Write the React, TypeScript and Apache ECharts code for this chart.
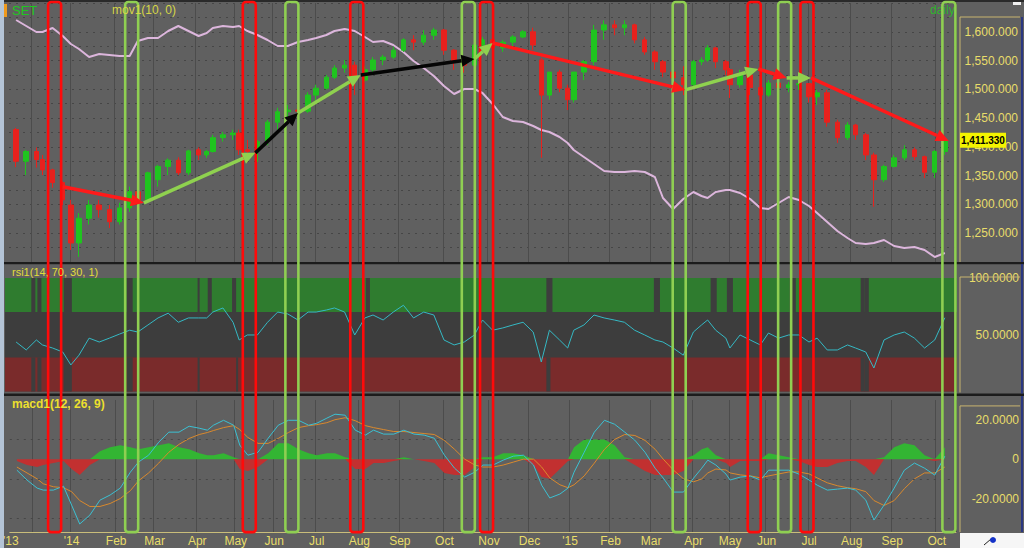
import React, { useEffect, useRef } from 'react';
import * as echarts from 'echarts';

// ---------- calendar ----------
const START_DATE = '2013-11-15';
const END_DATE = '2015-10-14';
const FIRST_WEEK_MONDAY = '2013-11-18';
const HOLIDAYS = [
  '2013-12-05', '2013-12-10', '2013-12-31', '2014-01-01', '2014-02-14', '2014-04-07', '2014-04-14',
  '2014-04-15', '2014-05-01', '2014-05-05', '2014-05-13', '2014-07-01', '2014-07-11', '2014-08-12',
  '2014-10-23', '2014-12-05', '2014-12-10', '2014-12-31', '2015-01-01', '2015-01-02', '2015-03-04',
  '2015-04-06', '2015-04-13', '2015-04-14', '2015-04-15', '2015-05-01', '2015-05-04', '2015-05-05',
  '2015-06-01', '2015-07-01', '2015-07-30', '2015-08-12',
];
const MONTH_NAMES = ['Jan', 'Feb', 'Mar', 'Apr', 'May', 'Jun', 'Jul', 'Aug', 'Sep', 'Oct', 'Nov', 'Dec'];

// ---------- weekly SET values (one per week, from week of 2013-11-18) ----------
const OPEN = [1430, 1375, 1392, 1378, 1360, 1338, 1299, 1233, 1276, 1299, 1291, 1270, 1294, 1322, 1308, 1343, 1366, 1377, 1355, 1395,
  1386, 1392, 1416, 1421, 1424, 1395, 1392, 1409, 1443, 1461, 1464, 1462, 1490, 1502, 1521, 1537, 1542, 1516, 1534, 1551,
  1556, 1568, 1586, 1582, 1594, 1603, 1568, 1548, 1542, 1577, 1586, 1572, 1582, 1591, 1600, 1551, 1490, 1530, 1502, 1482,
  1530, 1548, 1603, 1612, 1607, 1612, 1586, 1565, 1548, 1530, 1520, 1508, 1548, 1551, 1572, 1548, 1534, 1508, 1525, 1503,
  1490, 1511, 1503, 1508, 1510, 1487, 1494, 1443, 1416, 1438, 1421, 1386, 1343, 1366, 1381, 1395, 1383, 1356, 1392];
const HIGH = [1433, 1395, 1399, 1386, 1362, 1340, 1308, 1285, 1308, 1308, 1299, 1303, 1331, 1334, 1357, 1369, 1380, 1382, 1395, 1399,
  1395, 1421, 1426, 1430, 1430, 1412, 1412, 1447, 1468, 1473, 1473, 1495, 1508, 1525, 1542, 1551, 1548, 1540, 1556, 1560,
  1574, 1589, 1594, 1603, 1607, 1605, 1570, 1555, 1580, 1591, 1589, 1586, 1594, 1603, 1607, 1555, 1530, 1534, 1508, 1530,
  1551, 1612, 1620, 1620, 1620, 1614, 1591, 1568, 1551, 1546, 1540, 1551, 1556, 1577, 1574, 1551, 1537, 1534, 1530, 1508,
  1516, 1516, 1513, 1516, 1511, 1499, 1499, 1447, 1443, 1440, 1424, 1390, 1369, 1386, 1403, 1399, 1385, 1395, 1412];
const LOW = [1365, 1351, 1364, 1351, 1329, 1299, 1221, 1209, 1265, 1277, 1259, 1265, 1287, 1303, 1303, 1331, 1351, 1351, 1351, 1377,
  1381, 1390, 1409, 1412, 1386, 1377, 1374, 1403, 1430, 1450, 1456, 1459, 1477, 1500, 1518, 1529, 1490, 1513, 1530, 1542,
  1553, 1565, 1568, 1577, 1586, 1560, 1534, 1529, 1530, 1572, 1565, 1565, 1574, 1589, 1568, 1381, 1482, 1495, 1464, 1477,
  1516, 1542, 1586, 1594, 1594, 1580, 1560, 1534, 1521, 1511, 1490, 1503, 1542, 1548, 1537, 1525, 1485, 1503, 1490, 1478,
  1487, 1495, 1495, 1499, 1477, 1473, 1435, 1407, 1412, 1412, 1377, 1296, 1339, 1364, 1377, 1377, 1346, 1346, 1386];
const CLOSE = [1375, 1392, 1378, 1360, 1338, 1308, 1233, 1276, 1299, 1291, 1270, 1294, 1322, 1308, 1355, 1366, 1377, 1355, 1393, 1386,
  1392, 1416, 1421, 1424, 1395, 1392, 1409, 1443, 1461, 1464, 1462, 1490, 1502, 1521, 1537, 1542, 1516, 1534, 1551, 1556,
  1568, 1586, 1582, 1594, 1603, 1568, 1548, 1542, 1577, 1586, 1572, 1582, 1591, 1600, 1577, 1490, 1530, 1502, 1482, 1530,
  1548, 1603, 1612, 1607, 1612, 1586, 1565, 1548, 1530, 1520, 1508, 1548, 1551, 1572, 1548, 1534, 1508, 1525, 1503, 1490,
  1511, 1503, 1508, 1510, 1487, 1494, 1443, 1416, 1438, 1421, 1386, 1343, 1366, 1381, 1395, 1383, 1356, 1392, 1411.33];
const MOV1 = [242, 236, 230, 230, 234, 226, 218, 213, 205, 208, 207, 206, 206, 221, 224, 224, 231, 236, 231, 226,
  229, 234, 236, 235, 236, 231, 227, 222, 216, 216, 220, 222, 224, 227, 231, 233, 231, 225, 220, 221,
  217, 210, 201, 194, 186, 176, 168, 173, 173, 169, 158, 145, 141, 140, 136, 132, 130, 125, 119, 112,
  105, 98, 91, 90, 90, 91, 90, 85, 64, 53, 63, 70, 66, 64, 70, 72, 72, 69, 63, 54,
  53, 59, 65, 62, 56, 49, 40, 31, 24, 19, 18, 19, 22, 16, 14, 15, 12, 5, 9];
const RSI = [43.6, 36.6, 45.4, 41, 38.3, 34.8, 23.4, 32, 47, 43.6, 47, 50.6, 54, 52.4, 58.6, 64.8, 69, 61, 64.8, 64.8,
  64.8, 70, 73.6, 61, 45.4, 49.8, 49.8, 61, 70, 68.3, 63, 70, 70, 71.8, 73.6, 70, 49.8, 64.8, 67.4, 63,
  70, 76, 64.8, 70, 67.4, 45.4, 41, 43.6, 49.8, 63, 54, 56, 58.6, 61, 52.4, 26, 54, 45.4, 38.3, 54,
  58.6, 67.4, 64.8, 63, 61, 54, 49.8, 45.4, 43.6, 38.3, 32, 52.4, 58.6, 63, 54, 47, 38.3, 49.8, 45.4, 41,
  51.5, 47, 49.8, 49.8, 43.6, 47, 36.6, 36.6, 41, 38.3, 34.8, 20.7, 45.4, 49.8, 52.4, 47, 38.3, 45.4, 65];
const MACD = [-5.6, -10.6, -14.7, -15.7, -15.7, -13.7, -23.3, -32.9, -28.4, -20.8, -18.2, -14.7, -6.6, -1.5, 2, 8.6, 13.7, 13.7, 16.7, 15.7,
  14.7, 17.2, 19.7, 17.2, 7.1, 2, 3.5, 10.6, 17.2, 19.7, 19.7, 17.2, 18.2, 20.8, 22.8, 22.3, 14.7, 12.2, 14.7, 12.7,
  12.7, 14.7, 12.7, 12.2, 10.6, 2, -4.6, -9.1, -6.6, -3, -3, -0.5, 1.5, 2, -3, -13.2, -19.7, -17.7, -14.7, -6.6,
  3.5, 13.7, 19.7, 17.7, 13.7, 9.6, 3.5, -4.6, -9.6, -16.7, -16.7, -9.6, -4.6, -0.5, -3, -7.6, -10.6, -9.1, -8.6, -10.6,
  -5.6, -5.6, -5.6, -7.6, -10.6, -13.2, -15.7, -15.2, -14.7, -15.7, -20.8, -30.9, -23.3, -14.7, -5.6, -2, -4.6, -8.1, 1.5];
const SIGNAL = [-4, -7, -10, -12.5, -14, -14.5, -16.5, -21, -24, -24, -22.5, -20, -16, -11, -7, -2, 3.5, 7.5, 10.5, 12.5,
  13.5, 14.5, 16, 17, 15, 11, 8, 8, 10.5, 13.5, 16, 17, 17.5, 18.5, 20, 21, 19.5, 17, 16, 15,
  14, 14, 13.5, 13, 12.5, 9.5, 5, 0, -3, -4, -4, -3, -1.5, 0, 0, -4, -9.5, -13, -14.5, -13,
  -8.5, -2, 5, 10, 12.5, 12, 9.5, 5, 0, -5.5, -10, -11.5, -10, -7, -5, -5.5, -7, -8, -8.5, -9.5,
  -8.5, -7.5, -6.5, -6.5, -7.5, -9.5, -12, -13.5, -14.5, -15, -16.5, -21, -23.5, -21, -15, -10, -7, -7, -4];
const HIST = [-1, -3, -4, -3, -2, -1, -5, -8, -3, 4, 6, 7, 6, 5, 6, 7, 8, 6, 5, 3,
  2, 2, 3, 1, -5, -6, -4, 3, 8, 8, 5, 3, 2, 3, 3, 1, -5, -5, -2, -2,
  -1, 1, 0, -1, -2, -7, -8, -8, -4, 1, 1, 3, 3, 2, -3, -9, -10, -5, -1, 6,
  10, 10, 10, 7, 1, -3, -6, -8, -8, -8, -6, 2, 5, 6, 2, -2, -4, -1, -1, -1,
  3, 2, 1, -1, -3, -4, -4, -2, -1, -1, -4, -8, 1, 6, 8, 7, 2, -1, 6];
const LAST_PRICE = 1411.33;

// ---------- annotations ----------
const RED_BOXES = ['2013-12-19', '2014-05-15', '2014-07-31', '2014-10-31', '2015-05-22', '2015-06-30'];
const GREEN_BOXES = ['2014-02-13', '2014-06-13', '2014-10-17', '2015-03-23', '2015-06-15', '2015-10-09'];
const TREND_POINTS: [string, number][] = [
  ['2013-12-25', 1330.6], ['2014-02-24', 1302.8], ['2014-05-20', 1389.6], ['2014-06-18', 1459],
  ['2014-08-04', 1525], ['2014-10-22', 1552.8], ['2014-11-05', 1580.6], ['2015-03-26', 1499],
  ['2015-05-26', 1535.4], ['2015-06-16', 1519.8], ['2015-07-03', 1519.8], ['2015-10-09', 1410.4],
];
const TREND_COLORS = ['red', 'green', 'black', 'green', 'black', 'green', 'red', 'green', 'red', 'green', 'red'];
const RSI_GAPS_UPPER: [string, string][] = [
  ['2013-12-02', '2013-12-03'], ['2013-12-06', '2013-12-09'], ['2013-12-26', '2014-01-02'], ['2014-02-11', '2014-02-13'],
  ['2014-04-02', '2014-04-02'], ['2014-04-10', '2014-04-11'], ['2014-04-30', '2014-05-02'], ['2014-08-07', '2014-08-08'],
  ['2014-12-16', '2014-12-18'], ['2015-03-05', '2015-03-09'], ['2015-04-20', '2015-04-22'], ['2015-04-30', '2015-05-07'],
  ['2015-06-18', '2015-06-22'], ['2015-08-10', '2015-08-11'], ['2015-08-13', '2015-08-14'],
];
const RSI_GAPS_LOWER: [string, string][] = [
  ['2013-12-02', '2013-12-03'], ['2013-12-06', '2013-12-09'], ['2013-12-26', '2014-01-02'], ['2014-02-11', '2014-02-13'],
  ['2014-04-02', '2014-04-02'], ['2014-05-06', '2014-05-06'], ['2014-12-16', '2014-12-17'],
  ['2015-08-10', '2015-08-11'], ['2015-08-13', '2015-08-14'],
];

// ---------- colours ----------
const BG = '#606060';
const AXIS_TEXT = '#e8dd6a';
const FONT = 'Liberation Sans';
const COLORS: Record<string, string> = { red: '#ff1a1a', green: '#8fd14f', black: '#050505' };

const DAY = 86400000;
const parse = (d: string) => Date.parse(d + 'T00:00:00Z');
const iso = (t: number) => new Date(t).toISOString().slice(0, 10);

function buildDays(): string[] {
  const hol = new Set(HOLIDAYS);
  const out: string[] = [];
  for (let t = parse(START_DATE); t <= parse(END_DATE); t += DAY) {
    const wd = new Date(t).getUTCDay();
    if (wd === 0 || wd === 6) continue;
    const s = iso(t);
    if (!hol.has(s)) out.push(s);
  }
  return out;
}

export default function App() {
  const ref = useRef<HTMLDivElement>(null);
  useEffect(() => {
    if (!ref.current) return;
    const chart = echarts.init(ref.current, undefined, { renderer: 'svg' });
    const days = buildDays();
    const idxOf = new Map<string, number>();
    days.forEach((d, i) => idxOf.set(d, i));
    const idxFor = (d: string) => {
      const t = parse(d);
      for (let k = 0; k < 10; k++) {
        const s = iso(t + k * DAY);
        if (idxOf.has(s)) return idxOf.get(s)!;
      }
      return 0;
    };
    const weekIdx = (k: number) => {
      const mon = parse(FIRST_WEEK_MONDAY) + k * 7 * DAY;
      for (const off of [2, 3, 1, 4, 0]) {
        const s = iso(mon + off * DAY);
        if (idxOf.has(s)) return idxOf.get(s)!;
      }
      return -1;
    };
    const n = days.length;
    const empty = () => new Array(n).fill('-') as any[];
    const candle = empty(), mov = empty(), rsi = empty(), macd = empty(), sig = empty(), hPos = empty(), hNeg = empty();
    for (let k = 0; k < OPEN.length; k++) {
      const i = weekIdx(k);
      if (i < 0) continue;
      candle[i] = [OPEN[k], CLOSE[k], LOW[k], HIGH[k]];
      mov[i] = MOV1[k];
      rsi[i] = RSI[k];
      macd[i] = MACD[k];
      sig[i] = SIGNAL[k];
      hPos[i] = HIST[k] > 0 ? HIST[k] : 0;
      hNeg[i] = HIST[k] < 0 ? HIST[k] : 0;
    }
    const monthStart = days.map((d, i) => i > 0 && d.slice(5, 7) !== days[i - 1].slice(5, 7));
    const showLabel = (i: number) => i === 0 || (monthStart[i] && i > 15);
    const labelFmt = (v: string, i: number) => {
      const m = parseInt(v.slice(5, 7), 10);
      if (i === 0 || m === 1) return "'" + v.slice(2, 4);
      return MONTH_NAMES[m - 1];
    };
    const gridL = 9, gridR = 68;
    const xBase = (g: number) => ({
      type: 'category', gridIndex: g, data: days, boundaryGap: true,
      axisTick: { show: false }, axisLabel: { show: false }, axisLine: { show: false },
      splitLine: { show: true, interval: (i: number) => monthStart[i], lineStyle: { color: '#4c4c4c', width: 1 } },
    });
    const priceFmt = (v: number) => v.toLocaleString('en-US', { minimumFractionDigits: 3, maximumFractionDigits: 3 });
    const lbl = { color: AXIS_TEXT, fontSize: 12, fontFamily: FONT, align: 'right' };
    const option: any = {
      animation: false,
      backgroundColor: BG,
      textStyle: { fontFamily: FONT },
      grid: [
        { left: gridL, right: gridR, top: 3, height: 259 },
        { left: gridL, right: gridR, top: 278, height: 113.5 },
        { left: gridL, right: gridR, top: 400, height: 138 },
      ],
      xAxis: [
        xBase(0), xBase(1), xBase(2),
        {
          type: 'category', gridIndex: 2, data: days, boundaryGap: true, position: 'bottom', offset: -6, z: 5,
          axisTick: { show: false }, splitLine: { show: false },
          axisLine: { show: true, lineStyle: { color: '#c9bd7a', width: 1 } },
          axisLabel: { show: true, interval: showLabel, formatter: labelFmt, color: AXIS_TEXT, fontSize: 12, fontFamily: FONT, margin: 3 },
        },
      ],
      yAxis: [
        {
          gridIndex: 0, position: 'right', min: 1200, max: 1650, interval: 25,
          axisLine: { show: false }, axisTick: { show: false },
          splitLine: { show: true, lineStyle: { color: '#464646', type: [2, 5], width: 1 } },
          axisLabel: { ...lbl, margin: 62, formatter: (v: number) => (v % 50 === 0 && v >= 1250 && v <= 1600 ? priceFmt(v) : '') },
        },
        { gridIndex: 0, min: 0, max: 259, show: false },
        {
          gridIndex: 1, position: 'right', min: 0, max: 100, interval: 50,
          axisLine: { show: false }, axisTick: { show: false }, splitLine: { show: false },
          axisLabel: { ...lbl, margin: 63, formatter: (v: number) => (v === 0 ? '' : v.toFixed(4)) },
        },
        {
          gridIndex: 2, position: 'right', min: -40, max: 30, interval: 20,
          axisLine: { show: false }, axisTick: { show: false }, splitLine: { show: false },
          axisLabel: { ...lbl, margin: 63, formatter: (v: number) => (v === 0 ? '0' : v === 20 || v === -20 ? v.toFixed(4) : '') },
        },
      ],
      series: [
        {
          type: 'line', name: 'mov1(10, 0)', xAxisIndex: 0, yAxisIndex: 1, data: mov, connectNulls: true,
          symbol: 'none', lineStyle: { color: '#dcb6dc', width: 2 }, z: 2,
        },
        {
          type: 'candlestick', name: 'SET', xAxisIndex: 0, yAxisIndex: 0, data: candle, barWidth: 5,
          itemStyle: { color: '#1fc41f', color0: '#e8211d', borderColor: '#1fc41f', borderColor0: '#e8211d', borderWidth: 1 }, z: 3,
        },
        {
          type: 'line', name: 'rsi1', xAxisIndex: 1, yAxisIndex: 2, data: rsi, connectNulls: true,
          symbol: 'none', lineStyle: { color: '#35b9c4', width: 1 }, z: 5,
        },
        {
          type: 'line', name: 'hist+', xAxisIndex: 2, yAxisIndex: 3, data: hPos, connectNulls: true,
          symbol: 'none', lineStyle: { width: 0, color: '#33b533' }, areaStyle: { color: '#33b533', opacity: 1 }, z: 2,
          markLine: {
            silent: true, symbol: 'none', label: { show: false },
            lineStyle: { color: '#474747', type: [2, 5], width: 1 },
            data: [{ yAxis: 10 }, { yAxis: -10 }, { yAxis: -30 }],
          },
        },
        {
          type: 'line', name: 'hist-', xAxisIndex: 2, yAxisIndex: 3, data: hNeg, connectNulls: true,
          symbol: 'none', lineStyle: { width: 0, color: '#c23030' }, areaStyle: { color: '#c23030', opacity: 1 }, z: 2,
        },
        {
          type: 'line', name: 'signal', xAxisIndex: 2, yAxisIndex: 3, data: sig, connectNulls: true,
          symbol: 'none', lineStyle: { color: '#d9892d', width: 1 }, z: 4,
        },
        {
          type: 'line', name: 'macd', xAxisIndex: 2, yAxisIndex: 3, data: macd, connectNulls: true,
          symbol: 'none', lineStyle: { color: '#3cc0d2', width: 1 }, z: 5,
        },
      ],
    };
    chart.setOption(option);

    const px = (i: number) => chart.convertToPixel({ xAxisIndex: 0 }, i) as unknown as number;
    const cw = px(1) - px(0);
    const pyP = (v: number) => chart.convertToPixel({ yAxisIndex: 0 }, v) as unknown as number;
    const pyR = (v: number) => chart.convertToPixel({ yAxisIndex: 2 }, v) as unknown as number;
    const pyM = (v: number) => chart.convertToPixel({ yAxisIndex: 3 }, v) as unknown as number;
    const plotRight = px(n - 1) + cw / 2;
    const axisX = plotRight + 4;
    const els: any[] = [];
    const rect = (x: number, y: number, w: number, h: number, fill: string, z: number) =>
      els.push({ type: 'rect', silent: true, z, shape: { x, y, width: w, height: h }, style: { fill } });
    const line = (x1: number, y1: number, x2: number, y2: number, stroke: string, w: number, z: number) =>
      els.push({ type: 'line', silent: true, z, shape: { x1, y1, x2, y2 }, style: { stroke, lineWidth: w } });
    const text = (x: number, y: number, t: string, fill: string, font: string, z = 60, align = 'left') =>
      els.push({ type: 'text', silent: true, z, style: { x, y, text: t, fill, font, textAlign: align, textVerticalAlign: 'middle' } });

    // RSI background and zones
    const rTop = pyR(100), r70 = pyR(70), r30 = pyR(30), rBot = pyR(0);
    rect(5, rTop, plotRight + 1 - 5, rBot - rTop, '#3d3d3d', 1);
    rect(5, rTop, plotRight + 1 - 5, r70 - rTop, '#2f7c2f', 1);
    rect(5, r30, plotRight + 1 - 5, rBot - r30, '#7a2b2b', 1);
    RSI_GAPS_UPPER.forEach(([a, b]) => {
      const x1 = px(idxFor(a)) - cw / 2, x2 = px(idxFor(b)) + cw / 2;
      rect(x1, rTop, x2 - x1, r70 - rTop, '#3d3d3d', 1);
    });
    RSI_GAPS_LOWER.forEach(([a, b]) => {
      const x1 = px(idxFor(a)) - cw / 2, x2 = px(idxFor(b)) + cw / 2;
      rect(x1, r30, x2 - x1, rBot - r30, '#3d3d3d', 1);
    });

    // bottom label strip (hides grid lines below the axis line)
    const bottomY = pyM(-37);
    rect(0, bottomY + 0.5, plotRight + 2, 548 - bottomY, BG, 3);

    // panel separators and frame
    rect(0, 0, 1024, 2, '#2a2a2a', 20);
    rect(0, pyP(1200), 1024, 2.2, '#1c1c1c', 20);
    rect(0, 393.5, 1024, 2.5, '#1c1c1c', 20);
    rect(0, 0, 4, 548, '#b4c4d6', 20);
    rect(4, 4, 3, 13, '#f09a1c', 60);
    // right axis boxes
    line(axisX, 17, axisX, pyP(1200), '#c8b46e', 1, 20);
    line(axisX, 17, 1020, 17, '#c8b46e', 1, 20);
    line(axisX, rTop - 1, axisX, rBot + 1, '#c8b46e', 1, 20);
    line(axisX, rTop - 1, 1020, rTop - 1, '#c8b46e', 1, 20);
    line(axisX, pyM(27), axisX, bottomY, '#c8b46e', 1, 20);
    line(axisX, pyM(27), 1020, pyM(27), '#c8b46e', 1, 20);
    line(1022, 17, 1022, pyP(1200), '#1b2b8c', 1.5, 20);
    line(1022, 264, 1022, 393.5, '#1b2b8c', 1.5, 20);
    line(1022, 396, 1022, bottomY, '#1b2b8c', 1.5, 20);
    rect(1013, 2, 8, 3, '#f0f0f0', 20);
    rect(axisX, bottomY + 1, 1024 - axisX, 548 - bottomY, '#f6f6f6', 20);
    line(984, 545, 991, 539, '#222', 1, 21);
    els.push({ type: 'circle', silent: true, z: 21, shape: { cx: 993, cy: 540, r: 3 }, style: { fill: '#1432c8' } });

    // highlight boxes
    const boxTop = pyP(1650) - 1, boxBot = bottomY;
    const box = (d: string, color: string) => {
      const cx = px(idxFor(d));
      els.push({
        type: 'rect', silent: true, z: 50,
        shape: { x: cx - 6.5, y: boxTop, width: 13, height: boxBot - boxTop, r: 3 },
        style: { fill: 'none', stroke: color, lineWidth: 2.6 },
      });
    };
    RED_BOXES.forEach((d) => box(d, '#ff0a0a'));
    GREEN_BOXES.forEach((d) => box(d, '#8fcf52'));

    // trend arrows
    const pts = TREND_POINTS.map(([d, p]) => [px(idxFor(d)), pyP(p)]);
    for (let i = 0; i < pts.length - 1; i++) {
      const [x1, y1] = pts[i], [x2, y2] = pts[i + 1];
      const color = COLORS[TREND_COLORS[i]];
      const dx = x2 - x1, dy = y2 - y1, L = Math.hypot(dx, dy) || 1;
      const ux = dx / L, uy = dy / L, head = Math.min(13, L * 0.6), hw = 6;
      const bx = x2 - ux * head, by = y2 - uy * head;
      els.push({ type: 'line', silent: true, z: 52, shape: { x1, y1, x2: bx, y2: by }, style: { stroke: color, lineWidth: 3.5 } });
      els.push({
        type: 'polygon', silent: true, z: 52,
        shape: { points: [[x2, y2], [bx - uy * hw, by + ux * hw], [bx + uy * hw, by - ux * hw]] },
        style: { fill: color },
      });
    }

    // last price tag
    const lp = pyP(LAST_PRICE);
    rect(axisX, lp - 7.5, 46, 15, '#f4f400', 55);
    text(axisX + 1, lp, LAST_PRICE.toLocaleString('en-US', { minimumFractionDigits: 3 }), '#000', `bold 10px "${FONT}"`, 56);

    // panel titles
    text(12, 10, 'SET', '#1ec81e', `13px "${FONT}"`);
    text(112, 10, 'mov1(10, 0)', '#d6d648', `12px "${FONT}"`);
    text(930, 10, 'daily', '#2fb42f', `12px "${FONT}"`, 40);
    text(12, 272, 'rsi1(14, 70, 30, 1)', '#e2dc3c', `11px "${FONT}"`);
    text(12, 404, 'macd1(12, 26, 9)', '#ecdf2e', `bold 12px "${FONT}"`);

    chart.setOption({ graphic: { elements: els } });
    return () => chart.dispose();
  }, []);
  return <div ref={ref} style={{ position: 'absolute', left: 0, top: 0, width: 1024, height: 548 }} />;
}
